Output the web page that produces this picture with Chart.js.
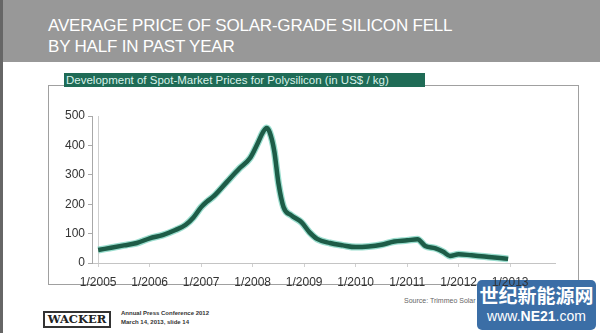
<!DOCTYPE html>
<html lang="en">
<head>
    <meta charset="UTF-8">
    <script src="https://cdn.jsdelivr.net/npm/chart.js"></script>
    <title>Polysilicon Spot Prices</title>
    <style>
        body {
            margin: 0;
            width: 600px;
            height: 333px;
            position: relative;
            overflow: hidden;
            background: #fff;
            font-family: Arial, "Liberation Sans", sans-serif;
        }
        .header {
            position: absolute; left: 0; top: 0; width: 600px; height: 62px;
            background: #989898;
        }
        .edge {
            position: absolute; left: 0; top: 0; width: 3px; height: 333px;
            background: #666;
        }
        .title {
            position: absolute; left: 48px; top: 15px;
            color: #fff; font-size: 17px; line-height: 21px;
            letter-spacing: -0.2px;
        }
        .box {
            position: absolute; left: 48px; top: 85px; width: 529px; height: 198px;
            border: 1px solid #a0a0a0;
        }
        .label {
            position: absolute; left: 64px; top: 73px; width: 359px; height: 14px;
            background: #1f6b56; color: #d9f2ea;
            font-size: 11.5px; line-height: 14px; padding-left: 2px;
            white-space: nowrap; overflow: hidden;
        }
        .logo {
            position: absolute; left: 43px; top: 311px; width: 64px; height: 13px;
            border: 2px double #333; font-family: "DejaVu Serif", serif; font-weight: bold;
            font-size: 11.5px; line-height: 13px; text-align: center; color: #222;
        }
        .conf {
            position: absolute; left: 121px; top: 309px; font-size: 6px; line-height: 9px;
            color: #333; font-weight: bold;
        }
        .source {
            position: absolute; left: 404px; top: 297px; font-size: 7px; color: #666;
        }
        .badge {
            position: absolute; left: 477px; top: 280px; width: 119px; height: 50px;
            background: #3b6ea6; border-radius: 5px; color: #fff; text-align: center;
        }
        .badge .cn { font-family: "Noto Sans CJK SC", sans-serif; font-weight: bold; font-size: 19px; line-height: 24px; margin-top: 3px; }
        .badge .url { font-size: 14px; line-height: 18px; }
        canvas { position: absolute; left: 0; top: 0; z-index: 5; }
    </style>
</head>
<body>

<div class="header"></div>
<div class="edge"></div>
<div class="title">AVERAGE PRICE OF SOLAR-GRADE SILICON FELL<br>BY HALF IN PAST YEAR</div>
<div class="box"></div>
<div class="label">Development of Spot-Market Prices for Polysilicon (in US$ / kg)</div>
<div class="logo">WACKER</div>
<div class="conf">Annual Press Conference 2012<br>March 14, 2013, slide 14</div>
<div class="source">Source: Trimmeo Solar</div>
<div class="badge"><div class="cn">世纪新能源网</div><div class="url">www.<b>NE21</b>.com</div></div>

<canvas id="priceChart" width="600" height="333"></canvas>

<script>
    // decimal year of each reading
    const years = [2005.0, 2005.25, 2005.5, 2005.75, 2006.0, 2006.25, 2006.5, 2006.7, 2006.85,
        2007.0, 2007.1, 2007.25, 2007.5, 2007.75, 2007.95, 2008.1, 2008.2, 2008.27, 2008.33,
        2008.42, 2008.5, 2008.6, 2008.75, 2008.95, 2009.1, 2009.25, 2009.5, 2009.75, 2010.0,
        2010.25, 2010.5, 2010.75, 2011.0, 2011.2, 2011.35, 2011.55, 2011.7, 2011.83, 2012.0,
        2012.25, 2012.5, 2012.75, 2012.96];
    // spot price in US$ / kg
    const prices = [44, 52, 60, 68, 84, 95, 112, 130, 155,
        190, 207, 228, 276, 323, 357, 408, 445, 459, 445,
        380, 272, 190, 162, 138, 105, 82, 68, 60, 54,
        56, 62, 73, 77, 81, 58, 50, 38, 24, 30,
        26, 22, 18, 14];
    const yearTicks = [2005, 2006, 2007, 2008, 2009, 2010, 2011, 2012, 2013];
    const priceTicks = [0, 100, 200, 300, 400, 500];

    const points = years.map((y, i) => ({ x: y, y: prices[i] }));

    const ctx = document.getElementById('priceChart').getContext('2d');
    const priceChart = new Chart(ctx, {
        type: 'line',
        data: {
            datasets: [{
                data: points,
                borderColor: '#1d5c47',
                borderWidth: 4.5,
                pointRadius: 0,
                cubicInterpolationMode: 'monotone',
                fill: false
            }, {
                // light teal halo under the line
                data: points,
                borderColor: 'rgba(120, 210, 190, 0.75)',
                borderWidth: 7,
                pointRadius: 0,
                cubicInterpolationMode: 'monotone',
                fill: false
            }]
        },
        options: {
            responsive: false,
            animation: false,
            layout: { padding: { left: 0, top: 116, right: 45, bottom: 0 } },
            plugins: { legend: { display: false }, tooltip: { enabled: false } },
            scales: {
                x: {
                    type: 'linear',
                    min: 2004.88,
                    max: 2013.87,
                    afterBuildTicks: scale => { scale.ticks = yearTicks.map(v => ({ value: v })); },
                    afterFit: scale => { scale.height = 70; },
                    ticks: {
                        autoSkip: false,
                        maxRotation: 0,
                        padding: 8,
                        color: '#333',
                        font: { family: 'Arial', size: 12 },
                        callback: v => '1/' + v
                    },
                    grid: {
                        drawOnChartArea: true,
                        color: c => (c.tick && c.tick.value === 2005) ? '#cfcfcf' : 'transparent',
                        tickColor: '#d0d0d0',
                        tickLength: 4
                    },
                    border: { color: '#c4c4c4' }
                },
                y: {
                    min: 0,
                    max: 500,
                    afterBuildTicks: scale => { scale.ticks = priceTicks.map(v => ({ value: v })); },
                    afterFit: scale => { scale.width = 92; },
                    ticks: {
                        padding: 3,
                        color: '#333',
                        font: { family: 'Arial', size: 12 }
                    },
                    grid: { drawOnChartArea: false, tickLength: 4, color: '#aaa' },
                    border: { color: '#a8a8a8' }
                }
            }
        }
    });
</script>

</body>
</html>
